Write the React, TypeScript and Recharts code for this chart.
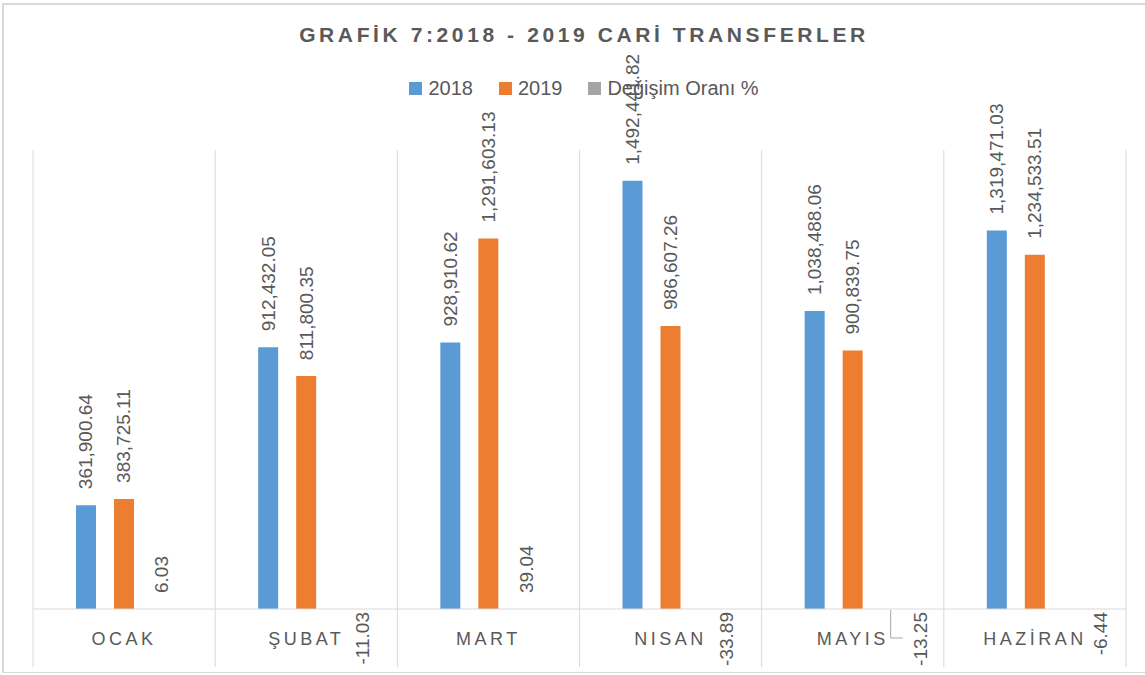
import { BarChart, Bar, XAxis, YAxis, Legend, LabelList } from 'recharts'

const months = ['OCAK', 'ŞUBAT', 'MART', 'NISAN', 'MAYIS', 'HAZİRAN']
const values2018 = [361900.64, 912432.05, 928910.62, 1492441.82, 1038488.06, 1319471.03]
const values2019 = [383725.11, 811800.35, 1291603.13, 986607.26, 900839.75, 1234533.51]
const changeRate = [6.03, -11.03, 39.04, -33.89, -13.25, -6.44]

const seriesNames = ['2018', '2019', 'Değişim Oranı %']
const colors = ['#5B9BD5', '#ED7D31', '#A5A5A5']

const W = 1145
const H = 675
const PLOT_TOP = 150
const AXIS_H = 66
const GRID_BOTTOM = 667
const TEXT = '#595959'
const GRID = '#d9d9d9'
const FONT = '"Liberation Sans", Arial, sans-serif'

// negative % labels were nudged right in the original, MAYIS one has a leader line
const NEG_DX: Record<number, number> = { 1: 18, 3: 18, 4: 30, 5: 28 }
const LEADER_INDEX = 4

const data = months.map((m, i) => ({
  month: m,
  y2018: values2018[i],
  y2019: values2019[i],
  change: changeRate[i],
}))

const fmt = (v: number) =>
  v.toLocaleString('en-US', { minimumFractionDigits: 2, maximumFractionDigits: 2 })

const ValueLabel = (props: any) => {
  const { x, y, width, value } = props
  const cx = Number(x) + Number(width) / 2
  const ty = Number(y) - 16
  return (
    <text
      x={cx}
      y={ty}
      transform={`rotate(-90, ${cx}, ${ty})`}
      textAnchor="start"
      dominantBaseline="central"
      fontSize={19}
      fill={TEXT}
      fontFamily={FONT}
    >
      {fmt(value)}
    </text>
  )
}

const ChangeLabel = (props: any) => {
  const { x, y, width, height, value, index } = props
  const cx = Number(x) + Number(width) / 2
  const base = Number(y) + Math.max(0, Number(height) || 0)
  if (value >= 0) {
    const ty = Number(y) - 16
    return (
      <text
        x={cx}
        y={ty}
        transform={`rotate(-90, ${cx}, ${ty})`}
        textAnchor="start"
        dominantBaseline="central"
        fontSize={19}
        fill={TEXT}
        fontFamily={FONT}
      >
        {value.toFixed(2)}
      </text>
    )
  }
  const dx = NEG_DX[index] ?? 18
  const lx = cx + dx
  const ty = base + 3
  return (
    <g>
      {index === LEADER_INDEX && (
        <path
          d={`M${cx},${base + 1} L${cx},${base + 29} L${cx + 12},${base + 29}`}
          stroke="#a6a6a6"
          fill="none"
          strokeWidth={1}
        />
      )}
      <text
        x={lx}
        y={ty}
        transform={`rotate(-90, ${lx}, ${ty})`}
        textAnchor="end"
        dominantBaseline="central"
        fontSize={19}
        fill={TEXT}
        fontFamily={FONT}
      >
        {value.toFixed(2)}
      </text>
    </g>
  )
}

const MonthTick = (props: any) => {
  const { x, payload, index } = props
  const half = payload?.offset || (W - 33 - 19) / months.length / 2
  const axisY = H - AXIS_H
  return (
    <g>
      <line x1={x - half} x2={x - half} y1={PLOT_TOP} y2={GRID_BOTTOM} stroke={GRID} />
      {index === months.length - 1 && (
        <line x1={x + half} x2={x + half} y1={PLOT_TOP} y2={GRID_BOTTOM} stroke={GRID} />
      )}
      <text
        x={x}
        y={axisY + 36}
        textAnchor="middle"
        fontSize={18}
        letterSpacing={3.5}
        fill={TEXT}
        fontFamily={FONT}
      >
        {payload.value}
      </text>
    </g>
  )
}

const LegendContent = () => (
  <div
    style={{
      display: 'flex',
      justifyContent: 'center',
      alignItems: 'center',
      gap: 26,
      fontFamily: FONT,
      fontSize: 20,
      color: TEXT,
    }}
  >
    {seriesNames.map((n, i) => (
      <div key={n} style={{ display: 'flex', alignItems: 'center', gap: 6 }}>
        <span style={{ width: 13, height: 13, background: colors[i], display: 'inline-block' }} />
        <span>{n}</span>
      </div>
    ))}
  </div>
)

export default function App() {
  return (
    <div style={{ position: 'absolute', left: 0, top: 0, width: W, height: H, overflow: 'hidden', background: '#fff' }}>
      <div
        style={{
          position: 'absolute',
          left: 2,
          top: 3,
          width: 1200,
          height: 667,
          borderTop: `2px solid ${GRID}`,
          borderLeft: `2px solid ${GRID}`,
          borderBottom: `1px solid ${GRID}`,
        }}
      />
      <div
        style={{
          position: 'absolute',
          left: 0,
          top: 22,
          width: 1168,
          textAlign: 'center',
          fontFamily: FONT,
          fontWeight: 'bold',
          fontSize: 21,
          letterSpacing: 3.6,
          color: TEXT,
          lineHeight: '26px',
        }}
      >
        GRAFİK 7:2018 - 2019 CARİ TRANSFERLER
      </div>
      <div style={{ position: 'absolute', left: 0, top: 0 }}>
        <BarChart
          width={W}
          height={H}
          data={data}
          margin={{ top: PLOT_TOP, right: 19, left: 33, bottom: 0 }}
          barSize={20}
          barGap={18}
        >
          <XAxis
            dataKey="month"
            height={AXIS_H}
            axisLine={{ stroke: GRID }}
            tickLine={false}
            interval={0}
            tick={<MonthTick />}
          />
          <YAxis hide domain={[0, 1600000]} allowDataOverflow />
          <Legend
            layout="horizontal"
            verticalAlign="middle"
            align="center"
            content={<LegendContent />}
            wrapperStyle={{ top: 77, left: 0, width: 1168, height: 28 }}
          />
          <Bar dataKey="y2018" name={seriesNames[0]} fill={colors[0]} isAnimationActive={false}>
            <LabelList dataKey="y2018" content={<ValueLabel />} />
          </Bar>
          <Bar dataKey="y2019" name={seriesNames[1]} fill={colors[1]} isAnimationActive={false}>
            <LabelList dataKey="y2019" content={<ValueLabel />} />
          </Bar>
          <Bar dataKey="change" name={seriesNames[2]} fill={colors[2]} isAnimationActive={false}>
            <LabelList dataKey="change" content={<ChangeLabel />} />
          </Bar>
        </BarChart>
      </div>
    </div>
  )
}
